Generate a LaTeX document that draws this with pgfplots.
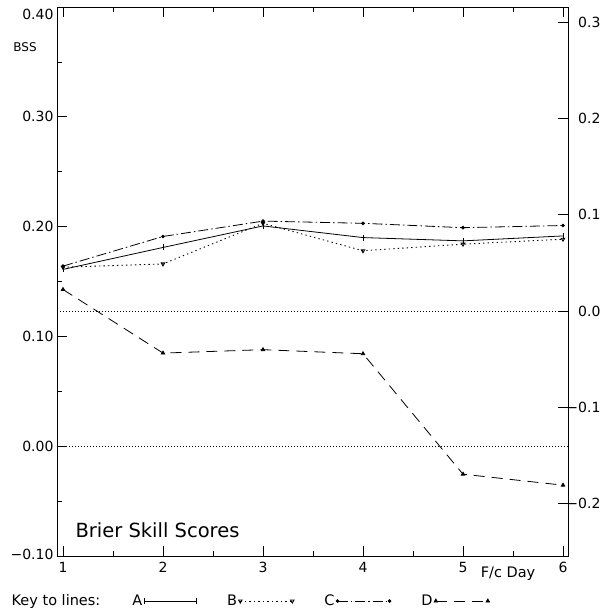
\documentclass[border=0pt]{standalone}
\usepackage{fontspec}
\setmainfont{DejaVu Sans}
\usepackage{pgfplots}
\usepackage{pgfplotstable}
\pgfplotsset{compat=1.18}

% Brier skill scores by forecast day
\pgfplotstableread{
day A      B      C     D
1   0.161  0.163  0.164  0.1427
2   0.181  0.166  0.191  0.0848
3   0.2006 0.2030 0.205  0.0879
4   0.190  0.178  0.203  0.0842
5   0.187  0.184  0.199  -0.0255
6   0.1915 0.1885 0.201  -0.0355
}\bss

\begin{document}
\begin{tikzpicture}
\begin{axis}[
    name=main,
    scale only axis,
    width=511pt, height=549pt,
    clip=false,
    xmin=0.94, xmax=6.05,
    ymin=-0.10, ymax=0.40,
    xtick={1,2,3,4,5,6},
    xticklabels={1,2,3,4,5,6},
    minor x tick num=1,
    ytick={-0.1,0,0.1,0.2,0.3,0.4},
    yticklabels={\raisebox{3pt}{−0.10},0.00,0.10,0.20,0.30,\raisebox{-13pt}[0pt][0pt]{0.40}},
    minor y tick num=1,
    xtick pos=both, ytick pos=left,
    tick align=inside,
    major tick length=10pt, minor tick length=5pt,
    tick style={line width=0.6pt, black},
    axis line style={line width=0.8pt},
    ticklabel style={font=\fontsize{14}{17}\selectfont},
    xticklabel style={yshift=-2.5pt},
    legend columns=5,
    legend plot pos=right,
    legend image code/.code={\draw[#1] plot coordinates {(0pt,0pt) (52pt,0pt)};},
    legend style={draw=none, fill=none, inner sep=0pt,
        at={(rel axis cs:-0.092,-0.082)}, anchor=west,
        font=\fontsize{14.5}{17}\selectfont,
        nodes={inner sep=1.5pt},
        /tikz/every even column/.append style={column sep=29pt}},
]
\addlegendimage{empty legend}
\addlegendentry{Key to lines:\hspace{19pt}}

% reference lines
\addplot[forget plot, line width=0.5pt, dash pattern=on 0.8pt off 2.2pt]
    coordinates {(0.94,0) (6.05,0)};
\addplot[forget plot, line width=0.5pt, dash pattern=on 0.8pt off 2.2pt]
    coordinates {(0.94,0.1227) (6.05,0.1227)};

\addplot[black, line width=0.8pt, mark=|, mark size=3pt, mark options={solid}]
    table[x=day, y=A] {\bss};
\addlegendentry{A}
\addplot[black, line width=0.9pt, dash pattern=on 1.3pt off 3.2pt,
    mark=triangle, mark size=2pt, mark options={solid, rotate=180}]
    table[x=day, y=B] {\bss};
\addlegendentry{B}
\addplot[black, line width=0.8pt, dash pattern=on 10pt off 3pt on 1.5pt off 3pt,
    mark=*, mark size=1.4pt, mark options={solid}]
    table[x=day, y=C] {\bss};
\addlegendentry{C}
\addplot[black, line width=0.8pt, dash pattern=on 11pt off 7pt,
    mark=triangle*, mark size=2pt, mark options={solid}]
    table[x=day, y=D] {\bss};
\addlegendentry{D}

\node[anchor=west, font=\fontsize{19.5}{23}\selectfont]
    at (axis cs:1.09,-0.0764) {Brier Skill Scores};
\node[font=\fontsize{12}{14}\selectfont, xshift=-32pt]
    at (axis cs:0.94,0.3636) {BSS};
\node[anchor=base, font=\fontsize{14.5}{17}\selectfont, yshift=-21pt]
    at (axis cs:5.45,-0.1) {F/c Day};
\end{axis}

\begin{axis}[
    scale only axis,
    width=511pt, height=549pt,
    xmin=0.94, xmax=6.05,
    ymin=-0.2547, ymax=0.316,
    axis x line=none,
    axis y line*=right,
    ytick={-0.2,-0.1,0,0.1,0.2,0.3},
    yticklabels={\llap{−}0.2,\llap{−}0.1,0.0,0.1,0.2,0.3},
    tick align=inside,
    major tick length=10pt,
    tick style={line width=0.6pt, black},
    axis line style={line width=0.8pt},
    yticklabel style={anchor=west, inner sep=0pt, xshift=10pt,
        font=\fontsize{14}{17}\selectfont},
]
\end{axis}

\pgfresetboundingbox
\path ([shift={(-57pt,-55pt)}]main.south west)
    rectangle ([shift={(38pt,7pt)}]main.north east);
\end{tikzpicture}
\end{document}
